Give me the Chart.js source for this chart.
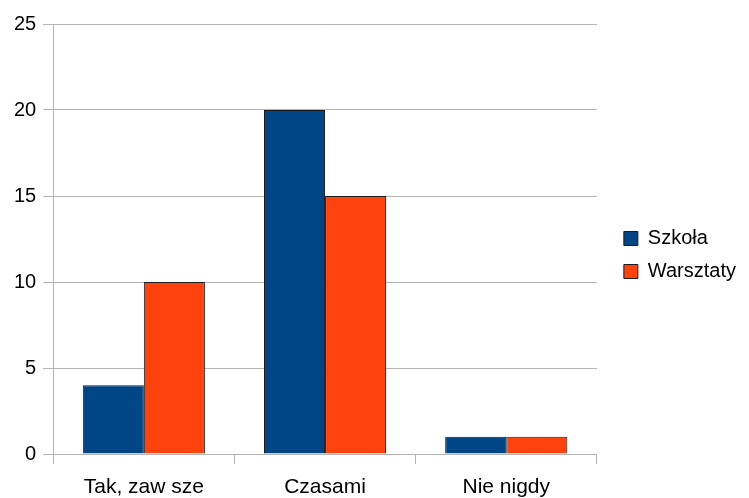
<!DOCTYPE html>
<html>
<head>
<meta charset="utf-8">
<script src="https://cdn.jsdelivr.net/npm/chart.js@4/dist/chart.umd.min.js"></script>
<style>
  html, body { margin: 0; padding: 0; background: #fff; }
  #wrap { width: 749px; height: 498px; }
</style>
</head>
<body>
<div id="wrap"><canvas id="chart"></canvas></div>
<script>
const categories = ["Tak, zaw sze", "Czasami", "Nie nigdy"];
const seriesNames = ["Szkoła", "Warsztaty"];
const szkola = [4, 20, 1];
const warsztaty = [10, 15, 1];
const yTicks = [0, 5, 10, 15, 20, 25];

const gridColor = "#b3b3b3";
const family = "'Liberation Sans', Arial, sans-serif";
const font = { family: family, size: 20 };

// nudge the drawn legend right/up, away from the plot
const legendShift = {
  id: "legendShift",
  afterInit(chart) {
    const legend = chart.legend;
    if (!legend) return;
    const draw = legend.draw.bind(legend);
    legend.draw = function () {
      const ctx = this.ctx;
      ctx.save();
      ctx.translate(14, -6);
      draw();
      ctx.restore();
    };
  },
};

new Chart(document.getElementById("chart"), {
  type: "bar",
  data: {
    labels: categories,
    datasets: [
      {
        label: seriesNames[0],
        data: szkola,
        backgroundColor: "#004586",
        borderColor: "#1c1c1c",
        borderWidth: 1,
      },
      {
        label: seriesNames[1],
        data: warsztaty,
        backgroundColor: "#ff420e",
        borderColor: "#1c1c1c",
        borderWidth: 1,
      },
    ],
  },
  options: {
    responsive: true,
    maintainAspectRatio: false,
    animation: false,
    datasets: {
      bar: { categoryPercentage: 0.674, barPercentage: 1 },
    },
    layout: { padding: { left: 7, top: 24, right: 17, bottom: 0 } },
    plugins: {
      legend: {
        position: "right",
        labels: {
          color: "#000",
          font: font,
          boxWidth: 14,
          boxHeight: 14,
          padding: 13,
        },
      },
      tooltip: { enabled: false },
    },
    scales: {
      x: {
        afterFit: (scale) => {
          scale.height = 44;
        },
        grid: {
          offset: true,
          drawOnChartArea: false,
          drawTicks: true,
          tickLength: 10,
          color: gridColor,
        },
        border: { color: gridColor },
        ticks: {
          color: "#000",
          font: { family: family, size: 21, lineHeight: 1 },
          padding: 13,
          maxRotation: 0,
        },
      },
      y: {
        min: 0,
        max: 25,
        afterBuildTicks: (axis) => {
          axis.ticks = yTicks.map((v) => ({ value: v }));
        },
        grid: { color: gridColor, tickLength: 10 },
        border: { color: gridColor },
        ticks: { color: "#000", font: font, padding: 7 },
      },
    },
  },
  plugins: [legendShift],
});
</script>
</body>
</html>
